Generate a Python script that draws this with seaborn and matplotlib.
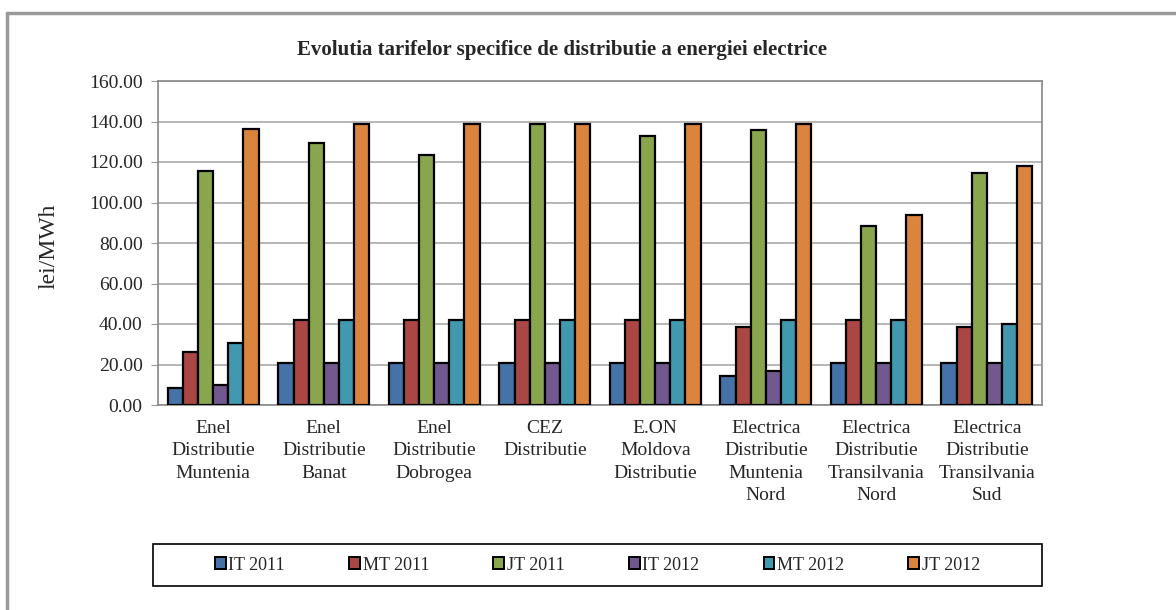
import pandas as pd
import numpy as np
import matplotlib.pyplot as plt
import seaborn as sns
from matplotlib.lines import Line2D

companies = ['Enel\nDistributie\nMuntenia', 'Enel\nDistributie\nBanat', 'Enel\nDistributie\nDobrogea',
             'CEZ\nDistributie', 'E.ON\nMoldova\nDistributie', 'Electrica\nDistributie\nMuntenia\nNord',
             'Electrica\nDistributie\nTransilvania\nNord', 'Electrica\nDistributie\nTransilvania\nSud']
series = ['IT 2011', 'MT 2011', 'JT 2011', 'IT 2012', 'MT 2012', 'JT 2012']
it_2011 = [8.5, 20.5, 20.5, 20.5, 20.5, 14.5, 20.5, 20.5]
mt_2011 = [26.0, 42.0, 42.0, 42.0, 42.0, 38.5, 42.0, 38.5]
jt_2011 = [115.5, 129.5, 123.5, 139.0, 133.0, 136.0, 88.3, 114.5]
it_2012 = [10.0, 20.5, 20.5, 20.5, 20.5, 17.0, 20.5, 20.5]
mt_2012 = [30.5, 42.0, 42.0, 42.0, 42.0, 42.0, 42.0, 40.0]
jt_2012 = [136.2, 139.0, 139.0, 139.0, 139.0, 139.0, 93.8, 118.0]
colors = ['#4572A7', '#AA4643', '#89A54E', '#71588F', '#4198AF', '#DB843D']

rows = []
for name, vals in zip(series, [it_2011, mt_2011, jt_2011, it_2012, mt_2012, jt_2012]):
    for c, v in zip(companies, vals):
        rows.append({'company': c, 'series': name, 'value': v})
df = pd.DataFrame(rows)

sns.set_style('white')
plt.rcParams['font.family'] = ['Liberation Serif', 'DejaVu Serif']

fig = plt.figure(figsize=(11.76, 6.10), dpi=100)
ax = fig.add_axes([158 / 1176, 1 - 405 / 610, (1042 - 158) / 1176, (405 - 81) / 610])

sns.barplot(data=df, x='company', y='value', hue='series', palette=colors, width=0.82,
            saturation=1, edgecolor='black', linewidth=1.6, ax=ax, legend=False, zorder=3)

ax.set_ylim(0, 160)
ax.set_xlim(-0.5, len(companies) - 0.5)
ax.set_yticks(np.arange(0, 161, 20))
ax.set_yticklabels([f'{v:.2f}' for v in np.arange(0, 161, 20)], fontsize=14)
ax.set_xticks(range(len(companies)))
ax.set_xticklabels(companies, fontsize=14, linespacing=1.4)
ax.set_xticks(np.arange(-0.5, len(companies), 1), minor=True)
ax.tick_params(axis='x', which='major', length=0, pad=11)
ax.tick_params(axis='x', which='minor', length=5, color='#999999', direction='out')
ax.tick_params(axis='y', length=5, color='#999999', direction='out', left=True, pad=6)
ax.grid(axis='y', color='#aaaaaa', linewidth=1.2, zorder=0)
ax.set_xlabel('')
ax.set_ylabel('lei/MWh', fontsize=17)
ax.yaxis.set_label_coords(-0.111, 0.49)
for s in ax.spines.values():
    s.set_color('#888888')
    s.set_linewidth(1.2)

fig.text(562 / 1176, 1 - 50 / 610, 'Evolutia tarifelor specifice de distributie a energiei electrice',
         ha='center', va='center', fontsize=15, fontweight='bold')

# outer chart frame
fig.add_artist(Line2D([7 / 1176, 7 / 1176], [0, 1 - 13 / 610], color='#999999', lw=2.5))
fig.add_artist(Line2D([7 / 1176, 1], [1 - 13 / 610, 1 - 13 / 610], color='#999999', lw=2.5))

handles = [plt.Rectangle((0, 0), 1, 1, facecolor=c, edgecolor='black', linewidth=1.4) for c in colors]
leg = fig.legend(handles, series, loc='center', ncol=6,
                 bbox_to_anchor=(153 / 1176, 1 - 586 / 610, (1042 - 153) / 1176, 42 / 610),
                 fontsize=13, frameon=False, handlelength=0.6, handleheight=0.6,
                 handletextpad=0.15, columnspacing=3.55, borderaxespad=0)
fig.add_artist(plt.Rectangle((153 / 1176, 1 - 586 / 610), (1042 - 153) / 1176, 42 / 610,
                             transform=fig.transFigure, fill=False, edgecolor='black', linewidth=1.2))

plt.savefig('out.png', dpi=100)
plt.close()
